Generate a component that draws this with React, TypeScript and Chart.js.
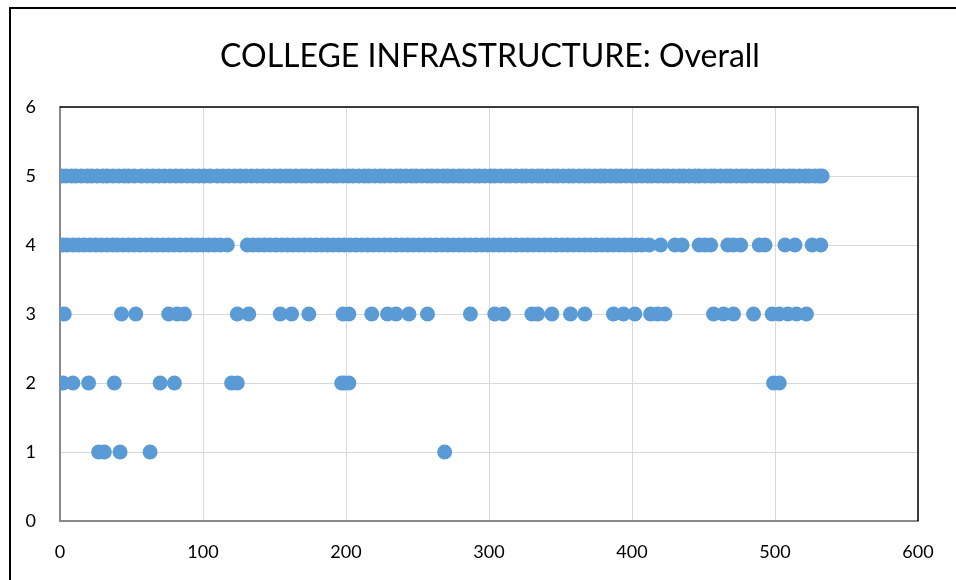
import React, { useEffect, useRef } from "react";
import { Chart, registerables } from "chart.js";

Chart.register(...registerables);

const TITLE = "COLLEGE INFRASTRUCTURE: Overall";

const xAxisMin = 0;
const xAxisMax = 600;
const xAxisStep = 100;
const yAxisMin = 0;
const yAxisMax = 6;
const yAxisStep = 1;

// Respondent index (x) for each rating level (y)
const rating5X = [1, 4, 8, 11, 15, 19, 22, 26, 30, 33, 37, 41, 45, 48, 52, 57, 61, 65, 69, 73, 77, 81, 85, 89, 93, 97, 101, 105, 110, 114, 118, 122, 126, 130, 134, 138, 142, 146, 150, 154, 158, 161, 165, 169, 172, 176, 180, 183, 187, 191, 194, 198, 202, 205, 209, 213, 216, 220, 224, 227, 231, 235, 238, 242, 246, 249, 253, 257, 260, 264, 268, 271, 275, 279, 282, 286, 290, 293, 297, 301, 304, 308, 312, 315, 319, 323, 326, 330, 334, 337, 341, 345, 348, 352, 356, 359, 363, 367, 370, 374, 378, 381, 385, 389, 392, 396, 400, 403, 407, 411, 414, 418, 422, 425, 429, 433, 436, 440, 444, 447, 451, 455, 458, 462, 466, 469, 473, 477, 480, 484, 488, 491, 495, 499, 502, 506, 510, 513, 517, 521, 524, 528, 531, 533];

const rating4X = [2, 5, 9, 13, 17, 21, 25, 29, 33, 37, 40, 44, 48, 52, 56, 60, 64, 68, 72, 76, 80, 84, 88, 92, 96, 100, 104, 108, 112, 117, 131, 135, 139, 143, 147, 151, 155, 159, 163, 167, 171, 175, 179, 183, 187, 191, 195, 199, 203, 207, 211, 215, 219, 223, 227, 231, 235, 239, 243, 247, 251, 255, 259, 263, 267, 271, 275, 279, 283, 287, 291, 295, 299, 303, 307, 311, 315, 319, 323, 327, 331, 335, 339, 343, 347, 351, 355, 359, 363, 367, 371, 375, 379, 383, 387, 391, 395, 399, 403, 407, 412, 420, 430, 435, 447, 451, 455, 467, 471, 476, 489, 493, 507, 514, 526, 532];

const rating3X = [3, 43, 53, 76, 82, 87, 124, 132, 154, 162, 174, 198, 202, 218, 229, 235, 244, 257, 287, 304, 310, 330, 334, 344, 357, 367, 387, 394, 402, 413, 418, 423, 457, 464, 471, 485, 498, 503, 509, 515, 522];

const rating2X = [2, 9, 20, 38, 70, 80, 120, 124, 197, 199, 202, 499, 503];

const rating1X = [27, 31, 42, 63, 269];

const FONT = "Lato, 'Liberation Sans', sans-serif";

export default function App() {
  const ref = useRef<HTMLCanvasElement | null>(null);

  useEffect(() => {
    const points = [
      ...rating5X.map((x) => ({ x, y: 5 })),
      ...rating4X.map((x) => ({ x, y: 4 })),
      ...rating3X.map((x) => ({ x, y: 3 })),
      ...rating2X.map((x) => ({ x, y: 2 })),
      ...rating1X.map((x) => ({ x, y: 1 })),
    ];

    const frame = {
      id: "plotFrame",
      afterDraw(chart: any) {
        const { ctx, chartArea: a } = chart;
        ctx.save();
        ctx.strokeStyle = "#000";
        ctx.lineWidth = 1.5;
        ctx.beginPath();
        ctx.moveTo(a.left, a.top);
        ctx.lineTo(a.right, a.top);
        ctx.lineTo(a.right, a.bottom);
        ctx.stroke();
        ctx.restore();
      },
    };

    const chart = new Chart(ref.current as HTMLCanvasElement, {
      type: "scatter",
      data: {
        datasets: [
          {
            data: points,
            backgroundColor: "#5B9BD5",
            borderColor: "#5B9BD5",
            borderWidth: 0,
            pointRadius: 7.5,
            pointHoverRadius: 7.5,
          },
        ],
      },
      options: {
        responsive: false,
        animation: false,
        layout: { padding: { left: 0, right: 38, top: 107, bottom: 0 } },
        plugins: {
          legend: { display: false },
          tooltip: { enabled: false },
          title: { display: false },
        },
        scales: {
          x: {
            type: "linear",
            min: xAxisMin,
            max: xAxisMax,
            ticks: {
              stepSize: xAxisStep,
              color: "#000",
              font: { family: FONT, size: 18 },
              padding: 20,
              maxRotation: 0,
            },
            grid: { color: "#d9d9d9", lineWidth: 1, drawTicks: false },
            border: { color: "#898989", width: 2 },
            afterFit: (s: any) => {
              s.height = 59;
            },
          },
          y: {
            type: "linear",
            min: yAxisMin,
            max: yAxisMax,
            ticks: {
              stepSize: yAxisStep,
              color: "#000",
              font: { family: FONT, size: 18 },
              padding: 24,
            },
            grid: { color: "#d9d9d9", lineWidth: 1, drawTicks: false },
            border: { color: "#898989", width: 2 },
            afterFit: (s: any) => {
              s.width = 60;
            },
          },
        },
      },
      plugins: [frame],
    });
    return () => chart.destroy();
  }, []);

  return (
    <div
      style={{
        position: "fixed",
        left: 0,
        top: 0,
        width: 956,
        height: 580,
        overflow: "hidden",
        background: "#fff",
      }}
    >
      <div
        style={{
          position: "absolute",
          left: 9,
          top: 7,
          width: 1100,
          height: 700,
          border: "2px solid #000",
        }}
      />
      <canvas
        ref={ref}
        width={956}
        height={580}
        style={{ position: "absolute", left: 0, top: 0, width: 956, height: 580 }}
      />
      <div
        style={{
          position: "absolute",
          left: 0,
          top: 36,
          width: 980,
          textAlign: "center",
          fontFamily: FONT,
          fontSize: 32,
          lineHeight: "38px",
          color: "#000",
          whiteSpace: "nowrap",
        }}
      >
        {TITLE}
      </div>
    </div>
  );
}
